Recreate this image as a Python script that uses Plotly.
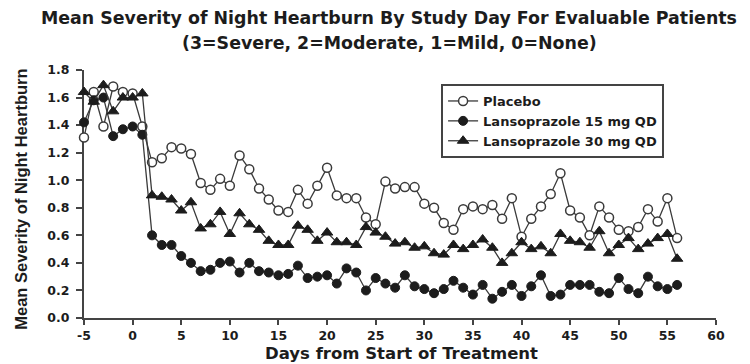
import plotly.graph_objects as go

# Study days: 6 baseline days, then treatment days 1..56
days = list(range(-5, 1)) + list(range(1, 57))

placebo = [1.31, 1.64, 1.39, 1.68, 1.64, 1.63,
           1.39, 1.13, 1.16, 1.24, 1.23, 1.19, 0.98, 0.93, 1.01, 0.96,
           1.18, 1.08, 0.94, 0.86, 0.78, 0.77, 0.93, 0.83, 0.96, 1.09,
           0.89, 0.87, 0.87, 0.73, 0.68, 0.99, 0.94, 0.95, 0.95, 0.83,
           0.80, 0.69, 0.64, 0.79, 0.81, 0.79, 0.82, 0.72, 0.87, 0.59,
           0.72, 0.81, 0.90, 1.05, 0.78, 0.73, 0.60, 0.81, 0.73, 0.64,
           0.63, 0.66, 0.79, 0.70, 0.87, 0.58]

lanso15 = [1.42, 1.58, 1.60, 1.32, 1.37, 1.39,
           1.33, 0.60, 0.53, 0.53, 0.45, 0.40, 0.34, 0.35, 0.40, 0.41,
           0.33, 0.40, 0.34, 0.33, 0.31, 0.32, 0.38, 0.29, 0.30, 0.31,
           0.25, 0.36, 0.33, 0.20, 0.29, 0.25, 0.22, 0.31, 0.23, 0.21,
           0.18, 0.21, 0.27, 0.22, 0.17, 0.24, 0.14, 0.19, 0.24, 0.16,
           0.23, 0.31, 0.16, 0.17, 0.24, 0.24, 0.24, 0.19, 0.18, 0.29,
           0.21, 0.18, 0.30, 0.23, 0.21, 0.24]

lanso30 = [1.64, 1.57, 1.69, 1.50, 1.60, 1.60,
           1.63, 0.89, 0.88, 0.86, 0.78, 0.84, 0.65, 0.68, 0.77, 0.61,
           0.76, 0.68, 0.64, 0.56, 0.53, 0.53, 0.67, 0.64, 0.56, 0.62,
           0.55, 0.55, 0.53, 0.66, 0.62, 0.59, 0.54, 0.55, 0.51, 0.52,
           0.47, 0.46, 0.53, 0.50, 0.53, 0.57, 0.51, 0.40, 0.47, 0.55,
           0.50, 0.52, 0.47, 0.61, 0.56, 0.55, 0.51, 0.63, 0.47, 0.53,
           0.58, 0.50, 0.54, 0.58, 0.61, 0.43]

series_names = ["Placebo", "Lansoprazole 15 mg QD", "Lansoprazole 30 mg QD"]
x_ticks = list(range(-5, 61, 5))
x_tick_labels = [str(v) for v in x_ticks]
y_ticks = [0.0, 0.2, 0.4, 0.6, 0.8, 1.0, 1.2, 1.4, 1.6, 1.8]

INK = "#1c1c1c"
LINE = "#3a3a3a"
FONT = "DejaVu Sans"

fig = go.Figure()

fig.add_trace(go.Scatter(
    x=days, y=placebo, name=series_names[0], mode="lines+markers",
    line=dict(color=LINE, width=1.3),
    marker=dict(symbol="circle", size=9, color="white",
                line=dict(color=LINE, width=1.5)),
    cliponaxis=False,
))
fig.add_trace(go.Scatter(
    x=days, y=lanso15, name=series_names[1], mode="lines+markers",
    line=dict(color=LINE, width=1.3),
    marker=dict(symbol="circle", size=9, color=INK,
                line=dict(color=INK, width=1)),
    cliponaxis=False,
))
fig.add_trace(go.Scatter(
    x=days, y=lanso30, name=series_names[2], mode="lines+markers",
    line=dict(color=LINE, width=1.3),
    marker=dict(symbol="triangle-up", size=10, color=INK,
                line=dict(color=INK, width=1)),
    cliponaxis=False,
))

axis_common = dict(
    showline=True, linecolor="#444", linewidth=2,
    ticks="outside", tickcolor="#444", tickwidth=2,
    showgrid=False, zeroline=False, layer="below traces",
)

fig.update_layout(
    width=750, height=364,
    margin=dict(l=84, r=34, t=70, b=46),
    paper_bgcolor="white", plot_bgcolor="white",
    showlegend=True,
    legend=dict(
        x=0.565, y=0.9435, xanchor="left", yanchor="top",
        bgcolor="white", bordercolor="#444", borderwidth=2,
        font=dict(family=FONT, size=13, color=INK, weight="bold"),
        tracegroupgap=0,
    ),
    xaxis=dict(
        range=[-5, 60], tickvals=x_ticks, ticktext=x_tick_labels,
        ticklen=5, ticklabelstandoff=0,
        tickfont=dict(family=FONT, size=12.5, color=INK, weight="bold"),
        **axis_common,
    ),
    yaxis=dict(
        range=[0, 1.8], tickvals=y_ticks, tickformat=".1f",
        ticklen=6, ticklabelstandoff=4,
        tickfont=dict(family=FONT, size=12.5, color=INK, weight="bold"),
        **axis_common,
    ),
    annotations=[
        dict(text="Mean Severity of Night Heartburn By Study Day For Evaluable Patients",
             xref="paper", yref="paper", x=0.4826, y=1.2097,
             xanchor="center", yanchor="middle", showarrow=False,
             font=dict(family=FONT, size=17.4, color=INK, weight="bold")),
        dict(text="(3=Severe, 2=Moderate, 1=Mild, 0=None)",
             xref="paper", yref="paper", x=0.4826, y=1.1089,
             xanchor="center", yanchor="middle", showarrow=False,
             font=dict(family=FONT, size=17.4, color=INK, weight="bold")),
        dict(text="Days from Start of Treatment",
             xref="paper", yref="paper", x=0.5025, y=-0.145,
             xanchor="center", yanchor="middle", showarrow=False,
             font=dict(family=FONT, size=16.5, color=INK, weight="bold")),
        dict(text="Mean Severity of Night Heartburn",
             xref="paper", yref="paper", x=-0.1, y=0.48,
             xanchor="center", yanchor="middle", showarrow=False,
             textangle=-90,
             font=dict(family="Liberation Sans", size=16.5, color=INK,
                       weight="bold")),
    ],
)

fig.write_html("out.html")
